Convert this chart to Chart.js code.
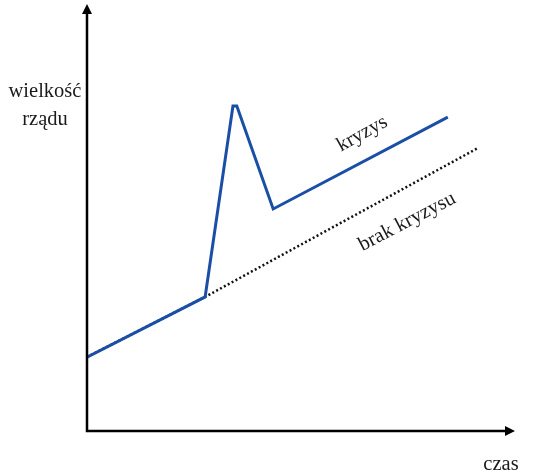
<!DOCTYPE html>
<html lang="pl">
<head>
    <meta charset="UTF-8">
    <title>Wielkość rządu a kryzys</title>
    <script src="https://cdn.jsdelivr.net/npm/chart.js@4.4.0/dist/chart.umd.min.js"></script>
    <style>
        html, body { margin: 0; padding: 0; background: #fff; }
        .chart-box { width: 536px; height: 476px; position: relative; }
    </style>
</head>
<body>
    <div class="chart-box">
        <canvas id="govChart"></canvas>
    </div>

    <script>
        // Series "kryzys" (government size with a crisis)
        const crisisX = [0, 27.6, 34.1, 35.0, 43.5, 84.3];
        const crisisY = [17.3, 31.4, 76.1, 76.1, 52.0, 73.5];

        // Series "brak kryzysu" (trend without a crisis, shares the first part)
        const baseX = [0, 27.6, 91.4];
        const baseY = [17.3, 31.4, 66.3];

        // Text labels
        const yAxisLabel = ['wielkość', 'rządu'];
        const xAxisLabel = 'czas';
        const seriesLabels = ['kryzys', 'brak kryzysu'];

        const toPoints = (xs, ys) => xs.map((x, i) => ({ x: x, y: ys[i] }));

        const SERIF = '"Liberation Serif", "Times New Roman", serif';

        // Axes with arrow heads + free text
        const annotations = {
            id: 'annotations',
            afterDraw(chart) {
                const ctx = chart.ctx;
                const a = chart.chartArea;
                const xs = chart.scales.x, ys = chart.scales.y;

                ctx.save();
                ctx.strokeStyle = '#000';
                ctx.fillStyle = '#000';
                ctx.lineWidth = 2.5;
                ctx.beginPath();
                ctx.moveTo(a.left, a.top + 6);
                ctx.lineTo(a.left, a.bottom);
                ctx.lineTo(a.right - 6, a.bottom);
                ctx.stroke();

                // arrow heads
                ctx.beginPath();
                ctx.moveTo(a.left, a.top);
                ctx.lineTo(a.left - 5, a.top + 10);
                ctx.lineTo(a.left + 5, a.top + 10);
                ctx.closePath();
                ctx.fill();
                ctx.beginPath();
                ctx.moveTo(a.right, a.bottom);
                ctx.lineTo(a.right - 10, a.bottom - 5);
                ctx.lineTo(a.right - 10, a.bottom + 5);
                ctx.closePath();
                ctx.fill();

                ctx.font = '20.5px ' + SERIF;
                ctx.textAlign = 'center';
                ctx.textBaseline = 'alphabetic';
                ctx.fillStyle = '#1a1a1a';
                ctx.fillText(yAxisLabel[0], a.left - 42, 97);
                ctx.fillText(yAxisLabel[1], a.left - 42, 125);
                ctx.fillText(xAxisLabel, a.right - 14, 470);

                // series labels, rotated along the lines
                ctx.textBaseline = 'middle';
                ctx.save();
                ctx.translate(xs.getPixelForValue(64.3), ys.getPixelForValue(69.6));
                ctx.rotate(-29 * Math.PI / 180);
                ctx.fillText(seriesLabels[0], 0, 0);
                ctx.restore();

                ctx.save();
                ctx.translate(xs.getPixelForValue(74.8), ys.getPixelForValue(49.0));
                ctx.rotate(-27.5 * Math.PI / 180);
                ctx.fillText(seriesLabels[1], 0, 0);
                ctx.restore();

                ctx.restore();
            }
        };

        new Chart(document.getElementById('govChart'), {
            type: 'line',
            data: {
                datasets: [{
                    label: seriesLabels[0],
                    data: toPoints(crisisX, crisisY),
                    borderColor: '#1b4fa6',
                    borderWidth: 3,
                    pointRadius: 0,
                    tension: 0,
                    order: 0
                }, {
                    label: seriesLabels[1],
                    data: toPoints(baseX, baseY),
                    borderColor: '#111',
                    borderWidth: 2.5,
                    borderDash: [2, 2.4],
                    pointRadius: 0,
                    tension: 0,
                    order: 1
                }]
            },
            options: {
                responsive: true,
                maintainAspectRatio: false,
                animation: false,
                layout: { padding: { left: 87, right: 21, top: 4, bottom: 45 } },
                plugins: {
                    legend: { display: false },
                    tooltip: { enabled: false }
                },
                scales: {
                    x: { type: 'linear', min: 0, max: 100, display: false },
                    y: { type: 'linear', min: 0, max: 100, display: false }
                }
            },
            plugins: [annotations]
        });
    </script>
</body>
</html>
